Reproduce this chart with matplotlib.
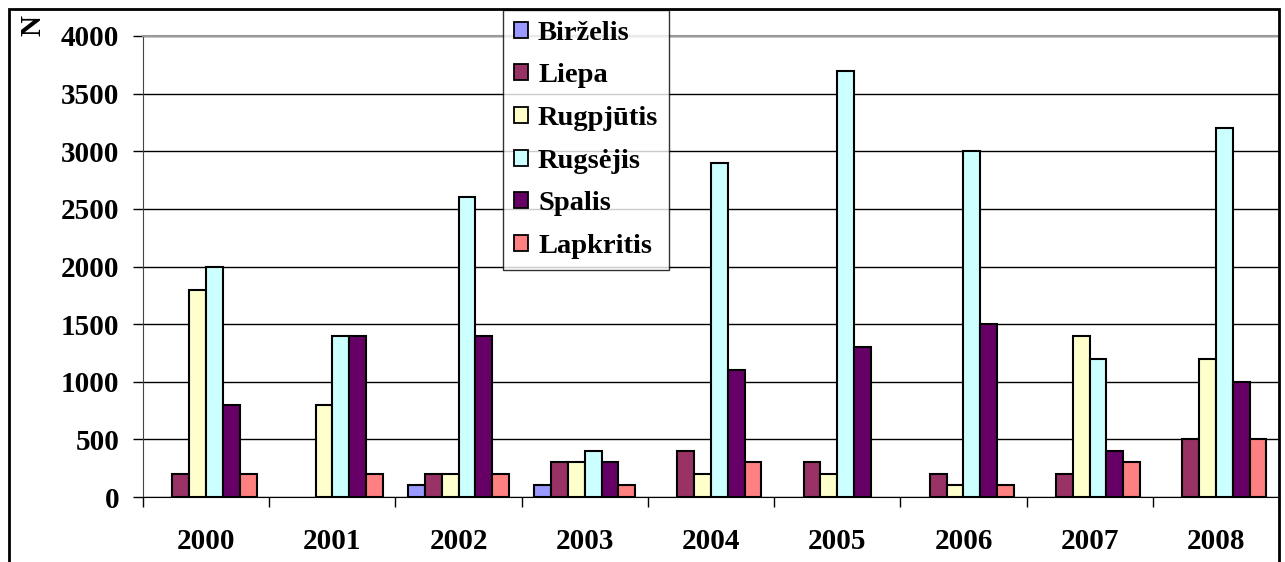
import numpy as np
import matplotlib
matplotlib.use("Agg")
import matplotlib.pyplot as plt
from matplotlib.patches import Rectangle

plt.rcParams['font.family'] = ['Liberation Serif', 'DejaVu Serif']
plt.rcParams['font.weight'] = 'bold'

years = ['2000', '2001', '2002', '2003', '2004', '2005', '2006', '2007', '2008']
months = ['Birželis', 'Liepa', 'Rugpjūtis', 'Rugsėjis', 'Spalis', 'Lapkritis']
colors = ['#9999FF', '#993366', '#FFFFCC', '#CCFFFF', '#660066', '#FF8080']

birzelis = [0, 0, 100, 100, 0, 0, 0, 0, 0]
liepa = [200, 0, 200, 300, 400, 300, 200, 200, 500]
rugpjutis = [1800, 800, 200, 300, 200, 200, 100, 1400, 1200]
rugsejis = [2000, 1400, 2600, 400, 2900, 3700, 3000, 1200, 3200]
spalis = [800, 1400, 1400, 300, 1100, 1300, 1500, 400, 1000]
lapkritis = [200, 200, 200, 100, 300, 0, 100, 300, 500]
series = [birzelis, liepa, rugpjutis, rugsejis, spalis, lapkritis]

W, H = 1285, 562
fig = plt.figure(figsize=(W / 100, H / 100), dpi=100)
ax = fig.add_axes([143 / W, 1 - 497 / H, (1279 - 143) / W, (497 - 36) / H])

x = np.arange(len(years))
bw = 1 / (len(months) + 1.5)
for i, (vals, c, name) in enumerate(zip(series, colors, months)):
    offs = (i - (len(months) - 1) / 2) * bw
    # zero-valued bars get no outline so they don't draw a line on the axis
    edges = ['black' if v > 0 else 'none' for v in vals]
    ax.bar(x + offs, vals, bw, color=c, edgecolor=edges, linewidth=1.5,
           label=name, zorder=3)

ax.set_xlim(-0.5, len(years) - 0.5)
ax.set_ylim(0, 4000)
ax.set_yticks(np.arange(0, 4001, 500))
ax.yaxis.grid(True, color='black', linewidth=1)
ax.set_axisbelow(True)

ax.set_xticks(x)
ax.set_xticklabels(years)
ax.set_xticks(np.arange(-0.5, len(years)), minor=True)
ax.tick_params(axis='x', which='major', length=0, pad=22, labelsize=21)
ax.tick_params(axis='x', which='minor', length=7, width=1, direction='out')
ax.tick_params(axis='y', length=7, width=1, direction='out', pad=10, labelsize=21)

ax.spines['right'].set_visible(False)
ax.spines['top'].set_color('#999999')
ax.spines['top'].set_linewidth(1.5)
ax.spines['left'].set_color('#444444')
ax.spines['bottom'].set_color('black')

fig.text(33 / W, 1 - 25 / H, 'N', rotation=90, fontsize=21, fontweight='bold',
         ha='center', va='center')

leg = fig.legend(loc='upper left', bbox_to_anchor=(503 / W, 1 - 10 / H),
                 fontsize=20.5, frameon=True, fancybox=False, borderaxespad=0,
                 handlelength=0.5, handleheight=0.5, handletextpad=0.35,
                 labelspacing=0.62, borderpad=0.38)
leg.get_frame().set_edgecolor('black')
leg.get_frame().set_linewidth(1)
for h in leg.legend_handles:
    h.set_edgecolor('black')
    h.set_linewidth(1.3)
for t in leg.get_texts():
    t.set_fontweight('bold')

fig.patches.append(Rectangle((9 / W, -0.05), (1279 - 9) / W, 1 - 9 / H + 0.05,
                             transform=fig.transFigure, fill=False,
                             edgecolor='black', linewidth=2, zorder=10))

fig.savefig('out.png', dpi=100)
